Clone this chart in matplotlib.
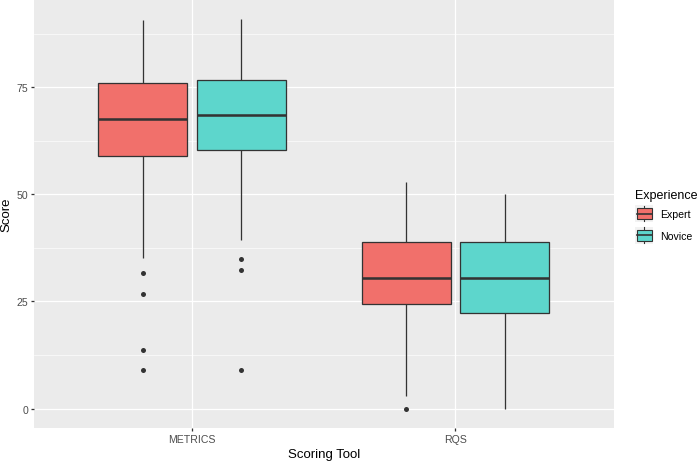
import matplotlib
matplotlib.use("Agg")
import matplotlib.pyplot as plt
from matplotlib.patches import Rectangle
from matplotlib.legend_handler import HandlerBase
from matplotlib.lines import Line2D

plt.rcParams['font.family'] = ['Liberation Sans', 'DejaVu Sans']

tools = ["METRICS", "RQS"]
groups = ["Expert", "Novice"]
colors = {"Expert": "#F1706B", "Novice": "#5DD6CC"}

# box stats: [whisker_low, q1, median, q3, whisker_high]
stats = {
    ("METRICS", "Expert"): [35.1, 58.9, 67.5, 75.9, 90.6],
    ("METRICS", "Novice"): [39.4, 60.4, 68.6, 76.6, 90.8],
    ("RQS", "Expert"): [2.9, 24.4, 30.5, 38.9, 52.9],
    ("RQS", "Novice"): [0.0, 22.3, 30.5, 38.9, 50.1],
}
outliers = {
    ("METRICS", "Expert"): [31.6, 26.7, 13.7, 9.1],
    ("METRICS", "Novice"): [35.0, 32.4, 9.1],
    ("RQS", "Expert"): [0.0],
    ("RQS", "Novice"): [],
}
yticks = [0, 25, 50, 75]

fig = plt.figure(figsize=(7.0, 4.64), dpi=100)
ax = fig.add_axes([34/700, 1 - 429/464, (613.5-34)/700, 428/464])
ax.set_facecolor("#EBEBEB")

lw = 0.92
edge = "#333333"
offsets = {"Expert": -0.1875, "Novice": 0.1875}
bw = 0.3375
for i, t in enumerate(tools):
    pos = i + 1
    for g in groups:
        x = pos + offsets[g]
        lo, q1, med, q3, hi = stats[(t, g)]
        ax.plot([x, x], [q3, hi], color=edge, lw=lw, zorder=2, solid_capstyle='butt')
        ax.plot([x, x], [lo, q1], color=edge, lw=lw, zorder=2, solid_capstyle='butt')
        ax.add_patch(Rectangle((x - bw/2, q1), bw, q3 - q1, facecolor=colors[g],
                               edgecolor=edge, lw=lw, zorder=3))
        ax.plot([x - bw/2, x + bw/2], [med, med], color=edge, lw=lw*2, zorder=4,
                solid_capstyle='butt')
        ol = outliers[(t, g)]
        if ol:
            ax.plot([x]*len(ol), ol, 'o', color=edge, ms=3.6, mew=0, zorder=5)

allv = [v for s in stats.values() for v in s] + [v for o in outliers.values() for v in o]
vmin, vmax = min(allv), max(allv)
r = vmax - vmin
ax.set_ylim(vmin - 0.05*r, vmax + 0.05*r)
ax.set_xlim(0.4, 2.6)

ax.set_xticks([1, 2])
ax.set_xticklabels(tools)
ax.set_yticks(yticks)
ax.set_yticks([12.5, 37.5, 62.5, 87.5], minor=True)
ax.set_xticks([], minor=True)
ax.grid(which='major', color='white', lw=0.92)
ax.grid(which='minor', axis='y', color='white', lw=0.46)
ax.set_axisbelow(True)
for sp in ax.spines.values():
    sp.set_visible(False)
ax.tick_params(which='major', length=2.4, width=0.92, color='#333333',
               labelsize=7.6, labelcolor='#4D4D4D', pad=2)
ax.tick_params(which='minor', length=0)
ax.set_xlabel("Scoring Tool", fontsize=9.5, labelpad=3)
ax.set_ylabel("Score", fontsize=9.5, labelpad=3)


class BoxHandler(HandlerBase):
    def __init__(self, color):
        super().__init__()
        self.color = color

    def create_artists(self, legend, orig_handle, xdescent, ydescent, width, height, fontsize, trans):
        arts = []
        x0 = -xdescent
        y0 = -ydescent
        bg = Rectangle((x0, y0), width, height, facecolor="#F2F2F2",
                       edgecolor='none', transform=trans)
        arts.append(bg)
        cx = x0 + width/2
        arts.append(Line2D([cx, cx], [y0 + height*0.05, y0 + height*0.95], color=edge, lw=0.8, transform=trans))
        bx0 = x0 + width*0.08
        bh0 = y0 + height*0.2
        box = Rectangle((bx0, bh0), width*0.84, height*0.6, facecolor=self.color,
                        edgecolor=edge, lw=0.8, transform=trans)
        arts.append(box)
        arts.append(Line2D([bx0, bx0 + width*0.84], [y0 + height/2]*2, color=edge, lw=1.2, transform=trans))
        return arts


h1 = Rectangle((0, 0), 1, 1)
h2 = Rectangle((0, 0), 1, 1)
leg = fig.legend([h1, h2], groups, title="Experience",
                 handler_map={h1: BoxHandler(colors["Expert"]), h2: BoxHandler(colors["Novice"])},
                 loc='upper left', bbox_to_anchor=(632/700, 1 - 186.5/464), frameon=False,
                 fontsize=7.6, title_fontsize=9.0, handlelength=1.71, handleheight=2.17,
                 handletextpad=0.7, labelspacing=0.4, borderpad=0.3, borderaxespad=0)
leg._legend_box.align = "left"

fig.savefig("out.png", dpi=100)
